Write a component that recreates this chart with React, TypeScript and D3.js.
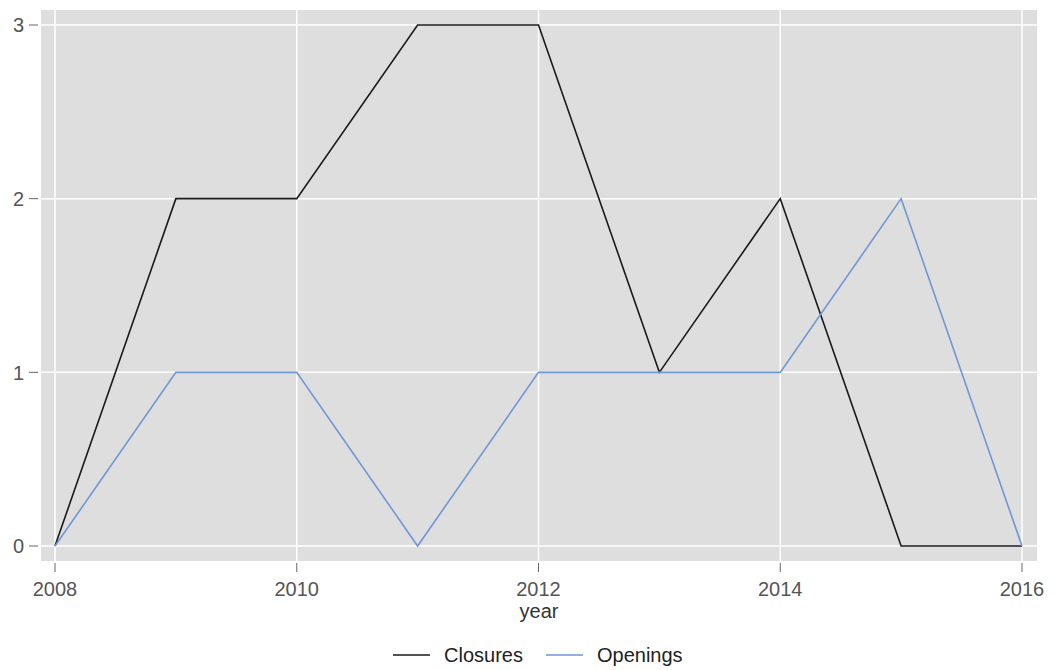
import React from "react";
import * as d3 from "d3";

const years = [2008, 2009, 2010, 2011, 2012, 2013, 2014, 2015, 2016];
const closures = [0, 2, 2, 3, 3, 1, 2, 0, 0];
const openings = [0, 1, 1, 0, 1, 1, 1, 2, 0];
const xTicks = [2008, 2010, 2012, 2014, 2016];
const yTicks = [0, 1, 2, 3];
const seriesNames = ["Closures", "Openings"];
const seriesColors = ["#1a1a1a", "#6f96d6"];

export default function App() {
  const W = 1054, H = 670;
  const panel = { left: 41, right: 1037, top: 10, bottom: 561 };
  const x = d3.scaleLinear().domain([2008, 2016]).range([55, 1022]);
  const y = d3.scaleLinear().domain([0, 3]).range([546, 25]);
  const line = d3.line<number>().x((_, i) => x(years[i])).y((d) => y(d));
  const font = "Arial, 'Liberation Sans', sans-serif";
  const textColor = "#555555";
  const series = [closures, openings];
  return (
    <svg width={W} height={H} style={{ position: "absolute", left: 0, top: 0 }} fontFamily={font}>
      <rect x={panel.left} y={panel.top} width={panel.right - panel.left} height={panel.bottom - panel.top} fill="#dedede" />
      {xTicks.map((t) => (
        <line key={"gx" + t} x1={x(t)} x2={x(t)} y1={panel.top} y2={panel.bottom} stroke="#ffffff" strokeWidth={1.5} />
      ))}
      {yTicks.map((t) => (
        <line key={"gy" + t} x1={panel.left} x2={panel.right} y1={y(t)} y2={y(t)} stroke="#ffffff" strokeWidth={1.5} />
      ))}
      {series.map((s, i) => (
        <path key={i} d={line(s) || ""} fill="none" stroke={seriesColors[i]} strokeWidth={1.6} strokeLinejoin="miter" />
      ))}
      {yTicks.map((t) => (
        <g key={"ty" + t}>
          <line x1={29} x2={38} y1={y(t)} y2={y(t)} stroke="#666" strokeWidth={1} />
          <text x={24} y={y(t)} dy="0.36em" textAnchor="end" fontSize={20} fill={textColor}>{t}</text>
        </g>
      ))}
      {xTicks.map((t) => (
        <g key={"tx" + t}>
          <line x1={x(t)} x2={x(t)} y1={563} y2={572} stroke="#666" strokeWidth={1} />
          <text x={x(t)} y={596} textAnchor="middle" fontSize={20} fill={textColor}>{t}</text>
        </g>
      ))}
      <text x={539} y={618} textAnchor="middle" fontSize={20} fill="#333">year</text>
      {seriesNames.map((n, i) => {
        const lx = i === 0 ? 393 : 546;
        return (
          <g key={n}>
            <line x1={lx} x2={lx + 37} y1={655} y2={655} stroke={seriesColors[i]} strokeWidth={1.6} />
            <text x={lx + 51} y={662} fontSize={20} fill="#222">{n}</text>
          </g>
        );
      })}
    </svg>
  );
}
